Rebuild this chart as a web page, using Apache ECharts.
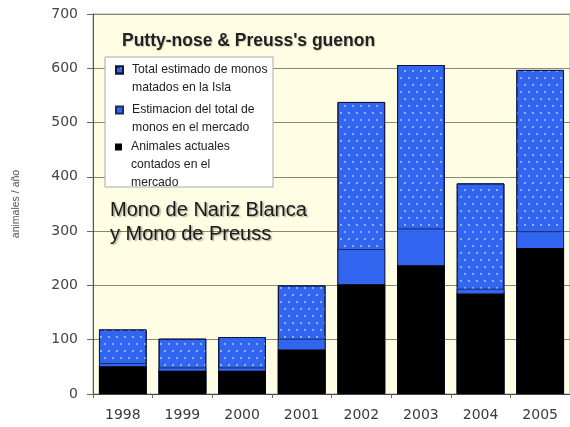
<!DOCTYPE html>
<html>
<head>
<meta charset="utf-8">
<script src="https://cdn.jsdelivr.net/npm/echarts@6/dist/echarts.min.js"></script>
<style>
html,body{margin:0;padding:0;background:#fff;}
#chart{width:570px;height:427px;}
</style>
</head>
<body>
<div id="chart"></div>
<script>
const years = ['1998','1999','2000','2001','2002','2003','2004','2005'];
const totalIsla = [119, 102, 105, 200, 538, 606, 388, 597];
const totalMercado = [57, 49, 49, 102, 267, 305, 194, 300];
const contados = [51, 43, 43, 82, 202, 237, 185, 269];
const seriesNames = ['Total estimado de monos matados en la Isla', 'Estimacion del total de monos en el mercado', 'Animales actuales contados en el mercado'];
const legendLabels = ['Total estimado de monos\nmatados en la Isla', 'Estimacion del total de\nmonos en el mercado', 'Animales actuales\ncontados en el\nmercado'];
const yTicks = [0, 100, 200, 300, 400, 500, 600, 700];

const FONT = '"Liberation Sans", Arial, sans-serif';
const AXFONT = '"DejaVu Sans", Verdana, sans-serif';
const BLUE = '#3366F0';
const LINE_H = 18;
const legendTops = [61, 101, 138];

function makeLegend(i) {
  const lines = legendLabels[i].split('\n');
  const k = lines.length - 1;
  const blank = new Array(k).fill(' ');
  const txt = blank.concat(lines).join('\n');
  return {
    data: [seriesNames[i]],
    orient: 'vertical',
    left: 115, top: legendTops[i] - k * LINE_H,
    padding: 0,
    itemWidth: 7, itemHeight: 7,
    icon: 'rect',
    z: 12,
    selectedMode: false,
    formatter: function () { return txt; },
    textStyle: {fontFamily: FONT, fontSize: 12.2, lineHeight: LINE_H, color: '#222', padding: [0, 0, 0, 4]}
  };
}

const chart = echarts.init(document.getElementById('chart'), null, {renderer: 'canvas'});
chart.setOption({
  backgroundColor: '#ffffff',
  animation: false,
  title: {
    text: "Putty-nose & Preuss's guenon",
    left: 117, top: 27,
    textStyle: {fontFamily: FONT, fontSize: 17.5, fontWeight: 'bold', color: '#222',
      textShadowColor: 'rgba(0,0,0,0.2)', textShadowOffsetX: 1, textShadowOffsetY: 1, textShadowBlur: 1}
  },
  legend: [makeLegend(0), makeLegend(1), makeLegend(2)],
  grid: {
    left: 93, top: 14, width: 481, height: 380,
    show: true, backgroundColor: '#FFFEE4', borderColor: '#a8a8a8', borderWidth: 1
  },
  xAxis: {
    type: 'category',
    data: years,
    axisLine: {lineStyle: {color: '#444', width: 1}},
    axisTick: {show: true, length: 4, lineStyle: {color: '#666'}},
    axisLabel: {fontFamily: AXFONT, fontSize: 14, color: '#3a3a3a', margin: 14}
  },
  yAxis: {
    type: 'value',
    min: 0, max: 700, interval: 100,
    name: 'animales / año',
    nameLocation: 'middle',
    nameGap: 71,
    nameTextStyle: {fontFamily: FONT, fontSize: 10.5, color: '#555'},
    axisLine: {show: true, lineStyle: {color: '#555', width: 1}},
    axisTick: {show: true, length: 6, lineStyle: {color: '#666'}},
    axisLabel: {fontFamily: AXFONT, fontSize: 14, color: '#444', margin: 15,
      formatter: function (v) { return yTicks.indexOf(v) >= 0 ? String(v) : ''; }},
    splitLine: {show: true, lineStyle: {color: '#8a8870', width: 1}}
  },
  graphic: [
    {
      type: 'rect',
      z: 10,
      shape: {x: 105, y: 57, width: 168, height: 130},
      style: {fill: '#ffffff', stroke: '#aaaaaa', lineWidth: 1}
    },
    {
      type: 'text',
      left: 110, top: 198,
      z: 1,
      style: {
        text: 'Mono de Nariz Blanca\ny Mono de Preuss',
        font: '20px ' + FONT,
        lineHeight: 24,
        fill: '#1a1a1a',
        textShadowColor: 'rgba(0,0,0,0.35)', textShadowOffsetX: 1.5, textShadowOffsetY: 1.5, textShadowBlur: 1.5
      }
    }
  ],
  series: [
    {
      name: seriesNames[0], type: 'bar', data: totalIsla,
      barWidth: '80%', barGap: '-100%', z: 2,
      itemStyle: {
        color: BLUE, borderColor: '#101840', borderWidth: 1,
        decal: {symbol: 'circle', symbolSize: 1, color: 'rgba(190,210,255,0.9)',
          dashArrayX: [[1.5, 5.5], [0, 3.5, 1.5, 2]], dashArrayY: [1.5, 4.5], rotation: 0}
      }
    },
    {
      name: seriesNames[1], type: 'bar', data: totalMercado,
      barWidth: '80%', barGap: '-100%', z: 3,
      itemStyle: {color: BLUE, borderColor: '#1a2a66', borderWidth: 1}
    },
    {
      name: seriesNames[2], type: 'bar', data: contados,
      barWidth: '80%', barGap: '-100%', z: 4,
      itemStyle: {color: '#000000'}
    }
  ]
});
</script>
</body>
</html>
